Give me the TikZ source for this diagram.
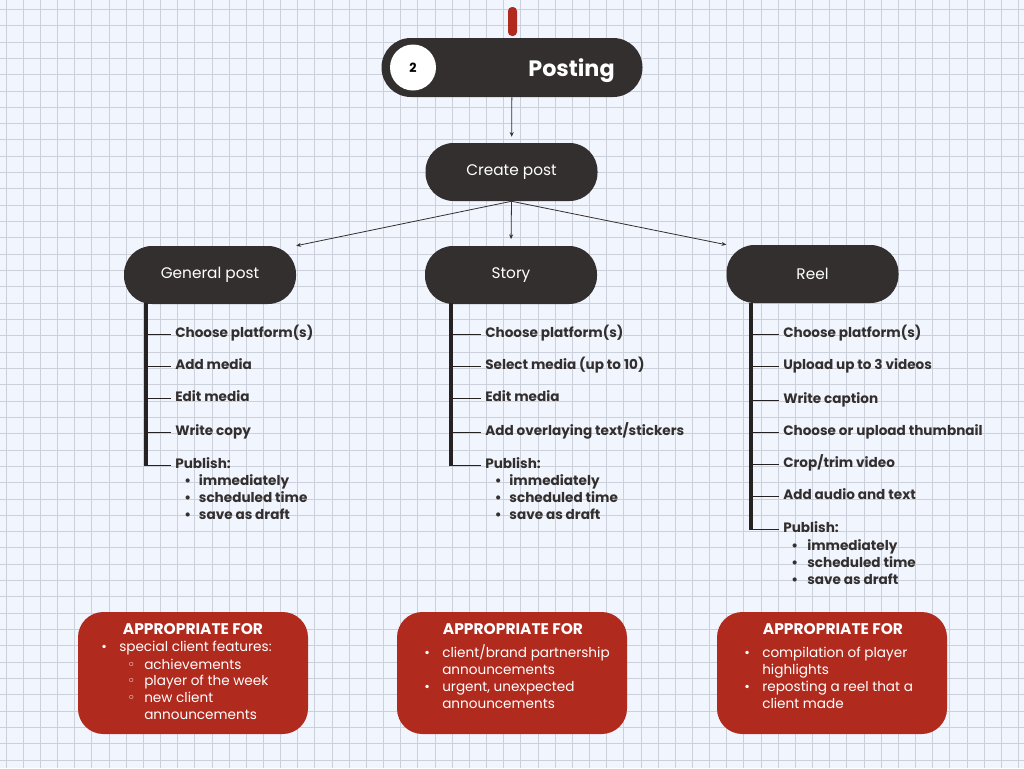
\documentclass[tikz,border=0pt]{standalone}
\usepackage{fontspec}
\setmainfont{Poppins}
\newfontfamily\symfont{DejaVu Sans}
\usetikzlibrary{arrows.meta}
\definecolor{pilldark}{HTML}{332F2E}
\definecolor{bardark}{HTML}{262222}
\definecolor{boxred}{HTML}{B02A1E}
\definecolor{paper}{HTML}{F1F5FE}
\definecolor{gridline}{HTML}{CCD0DB}
\newcommand{\bul}[1]{\makebox[#1][l]{•}}
\newcommand{\subbul}{\makebox[12.75pt][l]{\symfont ◦}}

\begin{document}
\begin{tikzpicture}[x=0.75pt, y=-0.75pt,
    pill/.style={fill=pilldark, rounded corners=21pt, minimum width=129pt, minimum height=43.5pt, text=white, font=\fontsize{11.5}{14}\selectfont},
    item/.style={anchor=mid west, inner sep=0pt, text=pilldark, font=\bfseries\fontsize{10.2}{12}\selectfont},
    tick/.style={draw=bardark, line width=0.75pt},
    bar/.style={draw=bardark, line width=3pt},
    link/.style={draw=pilldark, line width=0.6pt, -{Stealth[length=3.5pt, width=3pt]}},
    redbox/.style={fill=boxred, rounded corners=19pt, minimum width=172.5pt, minimum height=91.5pt},
    boxhead/.style={inner sep=0pt, text=white, font=\bfseries\fontsize{11.6}{13}\selectfont},
    boxline/.style={anchor=mid west, inner sep=0pt, text=white, font=\fontsize{10.2}{12}\selectfont}
]
\useasboundingbox (0,0) rectangle (1024,768);
\fill[paper] (0,0) rectangle (1024,768);
\foreach \k in {0,...,59}
    \draw[gridline, line width=0.6pt] ({6+17.16*\k},0) -- ({6+17.16*\k},768);
\foreach \k in {0,...,46}
    \draw[gridline, line width=0.6pt] (0,{9.3+16.32*\k}) -- (1024,{9.3+16.32*\k});

\node[fill=boxred, rounded corners=3pt, minimum width=6.75pt, minimum height=21.75pt, inner sep=0pt] (tab) at (512.5,21.5) {};
\node[pill, minimum width=195.75pt, minimum height=44.25pt, rounded corners=22pt] (posting) at (512,67.5) {};
\node[circle, fill=white, minimum size=34.5pt, inner sep=0pt, font=\bfseries\fontsize{9.5}{11}\selectfont] (num) at (413,67.5) {2};
\node[anchor=base, text=white, font=\bfseries\fontsize{16.7}{20}\selectfont] (title) at (571.5,76) {Posting};

\node[pill] (create) at (511.5,172) {Create post};
\node[pill] (general) at (210,275) {General post};
\node[pill] (story) at (511,275) {Story};
\node[pill] (reel) at (812.5,274) {Reel};

\draw[link, shorten >=4.5pt] (posting) -- (create);
\draw[link] (create.south) -- (general.north east);
\draw[link, shorten >=5pt] (create.south) -- (story.north);
\draw[link] (create.south) -- (reel.north west);

\coordinate (gtop) at (146,303);
\foreach \y/\txt [count=\i] in {334/Choose platform(s), 366/Add media, 398/Edit media, 432/Write copy, 465/Publish:}
{
    \node[item] (g\i) at (175,\y) {\txt};
    \draw[tick] (gtop |- g\i.mid west) -- ([xshift=-3pt]g\i.mid west);
}
\coordinate (gend) at (gtop |- g5.mid west);
\draw[bar] (gtop) -- ([yshift=-1pt]gend);
\foreach \y/\txt [count=\i] in {482/immediately, 499/scheduled time, 516/save as draft}
    \node[item] (gp\i) at (184,\y) {\bul{11pt}\txt};

\coordinate (stop) at (450.5,303);
\foreach \y/\txt [count=\i] in {334/Choose platform(s), 366/Select media (up to 10), 398/Edit media, 432/{Add overlaying text/stickers}, 465/Publish:}
{
    \node[item] (s\i) at (485,\y) {\txt};
    \draw[tick] (stop |- s\i.mid west) -- ([xshift=-3pt]s\i.mid west);
}
\coordinate (send) at (stop |- s5.mid west);
\draw[bar] (stop) -- ([yshift=-1pt]send);
\foreach \y/\txt [count=\i] in {482/immediately, 499/scheduled time, 516/save as draft}
    \node[item] (sp\i) at (494.5,\y) {\bul{11pt}\txt};

\coordinate (rtop) at (750.5,303);
\foreach \y/\txt [count=\i] in {334/Choose platform(s), 366/Upload up to 3 videos, 400/Write caption, 432/Choose or upload thumbnail, 464/{Crop/trim video}, 496/Add audio and text, 529/Publish:}
{
    \node[item] (r\i) at (783,\y) {\txt};
    \draw[tick] (rtop |- r\i.mid west) -- ([xshift=-3pt]r\i.mid west);
}
\coordinate (rend) at (rtop |- r7.mid west);
\draw[bar] (rtop) -- ([yshift=-1pt]rend);
\foreach \y/\txt [count=\i] in {547/immediately, 564/scheduled time, 581/save as draft}
    \node[item] (rp\i) at (791,\y) {\bul{12pt}\txt};

\node[redbox] (gbox) at (193,673) {};
\node[boxhead] (ghead) at (193,629) {APPROPRIATE FOR};
\node[boxline] (gl1) at (101,648) {\bul{13.5pt}special client features:};
\node[boxline] (gl2) at (127,665.5) {\subbul achievements};
\node[boxline] (gl3) at (127,682) {\subbul player of the week};
\node[boxline] (gl4) at (127,699) {\subbul new client};
\node[boxline] (gl5) at (144,716) {announcements};

\node[redbox] (sbox) at (512,673) {};
\node[boxhead] (shead) at (513,629) {APPROPRIATE FOR};
\node[boxline] (sl1) at (424,654) {\bul{13.5pt}client/brand partnership};
\node[boxline] (sl2) at (442,671) {announcements};
\node[boxline] (sl3) at (424,688) {\bul{13.5pt}urgent, unexpected};
\node[boxline] (sl4) at (442,705) {announcements};

\node[redbox] (rbox) at (832,673) {};
\node[boxhead] (rhead) at (833,629) {APPROPRIATE FOR};
\node[boxline] (rl1) at (744,654) {\bul{13.5pt}compilation of player};
\node[boxline] (rl2) at (762,671) {highlights};
\node[boxline] (rl3) at (744,688) {\bul{13.5pt}reposting a reel that a};
\node[boxline] (rl4) at (762,705) {client made};
\end{tikzpicture}
\end{document}
